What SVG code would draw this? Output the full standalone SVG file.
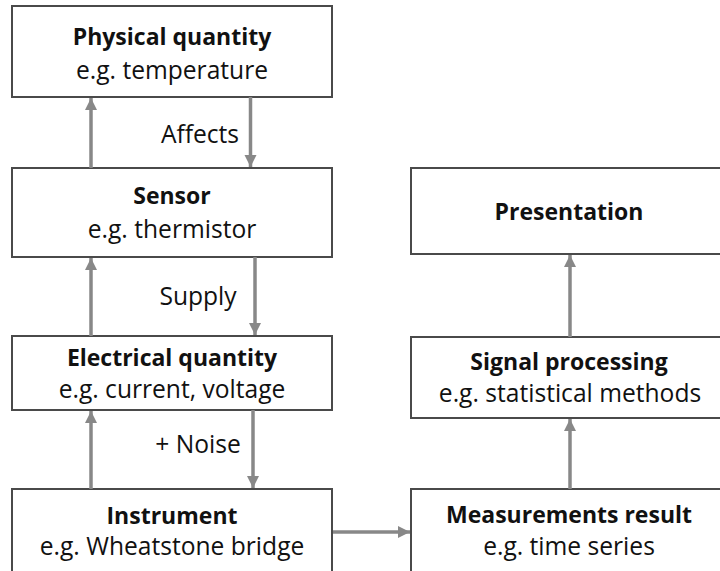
<svg xmlns="http://www.w3.org/2000/svg" width="720" height="571" viewBox="0 0 720 571">
  <style>
    .box { fill: #ffffff; stroke: #4a4a4a; stroke-width: 2; }
    .title { font-family: "Open Sans", "Noto Sans", sans-serif; font-size: 23px; font-weight: 700; fill: #111; text-anchor: middle; }
    .sub { font-family: "Open Sans", "Noto Sans", sans-serif; font-size: 24.6px; fill: #111; text-anchor: middle; }
    .lbl { font-family: "Open Sans", "Noto Sans", sans-serif; font-size: 24.6px; fill: #111; text-anchor: middle; }
    .conn { stroke: #888888; stroke-width: 3.5; fill: none; marker-end: url(#head); }
  </style>
  <defs>
    <marker id="head" markerUnits="userSpaceOnUse" markerWidth="13" markerHeight="13" refX="12" refY="6.5" orient="auto">
      <path d="M0,0.5 L12,6.5 L0,12.5 Z" fill="#888888"/>
    </marker>
  </defs>
  <rect width="720" height="571" fill="#ffffff"/>

  <g id="physical">
    <rect class="box" x="12" y="6" width="320" height="91"/>
    <text class="title" x="172" y="45">Physical quantity</text>
    <text class="sub" x="172" y="79">e.g. temperature</text>
  </g>
  <g id="sensor">
    <rect class="box" x="12" y="168" width="320" height="89"/>
    <text class="title" x="172" y="204">Sensor</text>
    <text class="sub" x="172" y="238">e.g. thermistor</text>
  </g>
  <g id="electrical">
    <rect class="box" x="12" y="336" width="320" height="74"/>
    <text class="title" x="172" y="366">Electrical quantity</text>
    <text class="sub" x="172" y="398">e.g. current, voltage</text>
  </g>
  <g id="instrument">
    <rect class="box" x="12" y="489" width="320" height="90"/>
    <text class="title" x="172" y="524">Instrument</text>
    <text class="sub" x="172" y="555">e.g. Wheatstone bridge</text>
  </g>
  <g id="presentation">
    <rect class="box" x="411" y="168" width="320" height="86"/>
    <text class="title" x="569" y="220">Presentation</text>
  </g>
  <g id="signal">
    <rect class="box" x="411" y="337" width="320" height="81"/>
    <text class="title" x="569" y="370">Signal processing</text>
    <text class="sub" x="570" y="402">e.g. statistical methods</text>
  </g>
  <g id="result">
    <rect class="box" x="411" y="489" width="320" height="90"/>
    <text class="title" x="569" y="523">Measurements result</text>
    <text class="sub" x="569" y="555">e.g. time series</text>
  </g>

  <g id="connectors">
    <line class="conn" x1="91" y1="168" x2="91" y2="98"/>
    <line class="conn" x1="250.5" y1="97" x2="250.5" y2="167"/>
    <line class="conn" x1="91" y1="336" x2="91" y2="258"/>
    <line class="conn" x1="255" y1="257" x2="255" y2="335"/>
    <line class="conn" x1="91" y1="489" x2="91" y2="411"/>
    <line class="conn" x1="253" y1="410" x2="253" y2="488"/>
    <line class="conn" x1="333" y1="532" x2="410" y2="532"/>
    <line class="conn" x1="570" y1="489" x2="570" y2="419"/>
    <line class="conn" x1="570" y1="337" x2="570" y2="255"/>
    <text class="lbl" x="200" y="143">Affects</text>
    <text class="lbl" x="198" y="305">Supply</text>
    <text class="lbl" x="198" y="453">+ Noise</text>
  </g>
</svg>
